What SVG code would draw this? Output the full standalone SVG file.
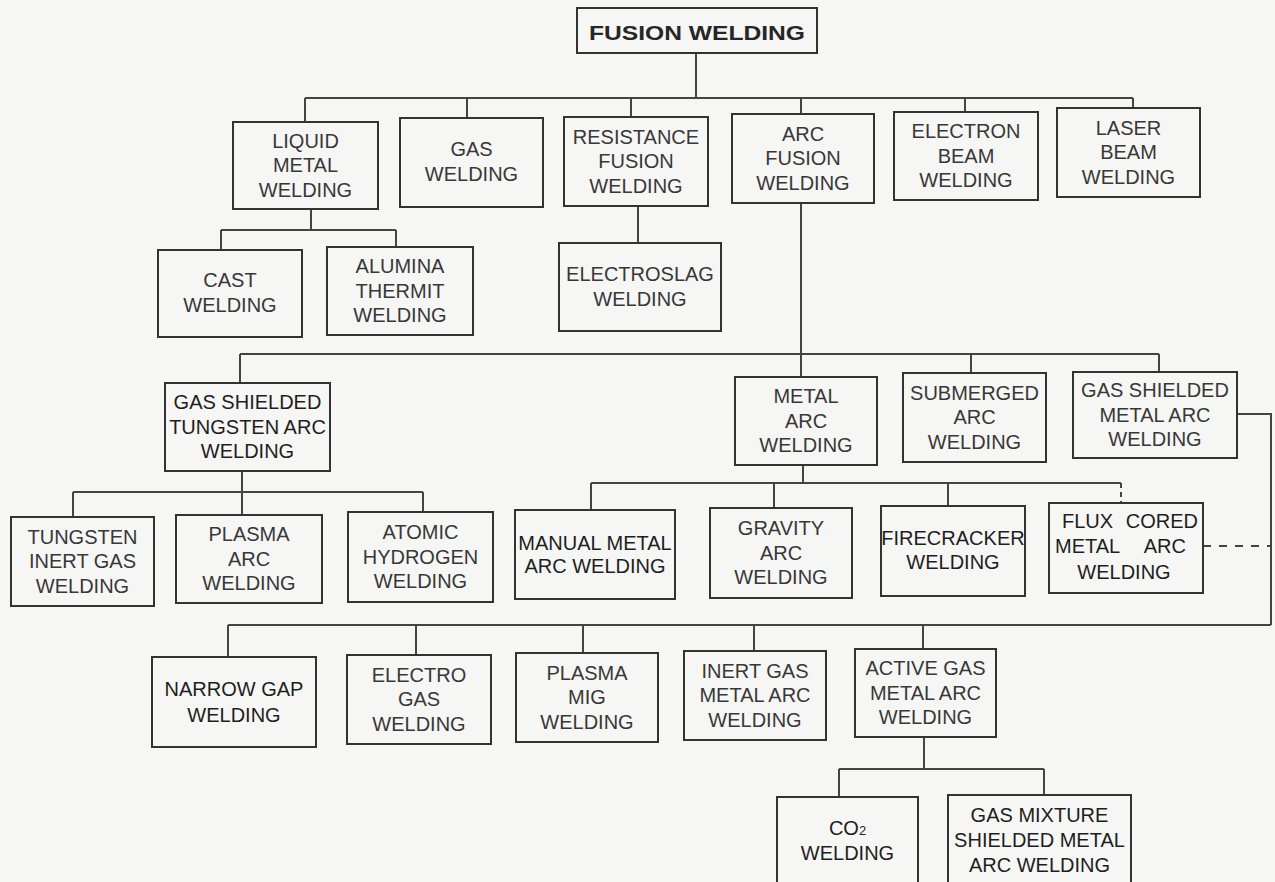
<svg xmlns="http://www.w3.org/2000/svg" width="1275" height="882" viewBox="0 0 1275 882">
<style>
.bg{fill:#f6f6f4}
.box{fill:#f6f6f4;stroke:#333;stroke-width:2}
.t{font-family:"Liberation Sans",Arial,sans-serif;font-size:20px;fill:#383838;text-anchor:middle}
.dk{fill:#1e1e1e}
.root{font-weight:bold;fill:#262626}
.c{fill:none;stroke:#444;stroke-width:2}
.d1{stroke-dasharray:5 4}
.d2{stroke-dasharray:8 8}
</style>
<rect class="bg" x="0" y="0" width="1275" height="882"/>
<g id="connectors">
<path class="c" d="M696 53V98M305 98H1133M305 98V122M467 98V118M631 98V117M801 98V114M965 98V112M1133 98V108"/>
<path class="c" d="M311 209V230M221 230H396M221 230V250M396 230V247M638 206V243"/>
<path class="c" d="M801 203V377M240 354H1159M240 354V383M971 354V373M1159 354V372"/>
<path class="c" d="M242 471V515M73 492H423M73 492V517M423 492V512"/>
<path class="c" d="M803 465V483M591 483H1121M591 483V510M774 483V508M948 483V506"/>
<path class="c d1" d="M1121 483V503"/>
<path class="c" d="M1237 414H1271V625M228 625H1271M228 625V657M416 625V655M583 625V653M754 625V651M923 625V649"/>
<path class="c d2" d="M1203 546H1271"/>
<path class="c" d="M924 737V769M839 769H1044M839 769V797M1044 769V795"/>
</g>
<g id="fusion-welding"><rect class="box" x="577" y="8" width="240" height="45"/><text class="t root" x="697" y="39.5" textLength="216" lengthAdjust="spacingAndGlyphs">FUSION WELDING</text></g>
<g id="liquid-metal"><rect class="box" x="233" y="122" width="145" height="87"/><text class="t"><tspan x="305.5" y="147.5">LIQUID</tspan><tspan x="305.5" y="172">METAL</tspan><tspan x="305.5" y="196.5">WELDING</tspan></text></g>
<g id="gas"><rect class="box" x="400" y="118" width="143" height="89"/><text class="t"><tspan x="471.5" y="156">GAS</tspan><tspan x="471.5" y="181">WELDING</tspan></text></g>
<g id="resistance-fusion"><rect class="box" x="564" y="117" width="144" height="89"/><text class="t"><tspan x="636" y="143.5">RESISTANCE</tspan><tspan x="636" y="168">FUSION</tspan><tspan x="636" y="192.5">WELDING</tspan></text></g>
<g id="arc-fusion"><rect class="box" x="732" y="114" width="142" height="89"/><text class="t"><tspan x="803" y="140.5">ARC</tspan><tspan x="803" y="165">FUSION</tspan><tspan x="803" y="189.5">WELDING</tspan></text></g>
<g id="electron-beam"><rect class="box" x="894" y="112" width="144" height="88"/><text class="t"><tspan x="966" y="138">ELECTRON</tspan><tspan x="966" y="162.5">BEAM</tspan><tspan x="966" y="187">WELDING</tspan></text></g>
<g id="laser-beam"><rect class="box" x="1057" y="108" width="143" height="89"/><text class="t"><tspan x="1128.5" y="134.5">LASER</tspan><tspan x="1128.5" y="159">BEAM</tspan><tspan x="1128.5" y="183.5">WELDING</tspan></text></g>
<g id="cast"><rect class="box" x="158" y="250" width="144" height="87"/><text class="t"><tspan x="230" y="287">CAST</tspan><tspan x="230" y="312">WELDING</tspan></text></g>
<g id="alumina-thermit"><rect class="box" x="327" y="247" width="146" height="88"/><text class="t"><tspan x="400" y="273">ALUMINA</tspan><tspan x="400" y="297.5">THERMIT</tspan><tspan x="400" y="322">WELDING</tspan></text></g>
<g id="electroslag"><rect class="box" x="559" y="243" width="162" height="88"/><text class="t"><tspan x="640" y="281">ELECTROSLAG</tspan><tspan x="640" y="305.5">WELDING</tspan></text></g>
<g id="gas-shielded-tungsten"><rect class="box" x="165" y="383" width="165" height="88"/><text class="t dk"><tspan x="247.5" y="409">GAS SHIELDED</tspan><tspan x="247.5" y="433.5">TUNGSTEN ARC</tspan><tspan x="247.5" y="458">WELDING</tspan></text></g>
<g id="metal-arc"><rect class="box" x="735" y="377" width="142" height="88"/><text class="t"><tspan x="806" y="403">METAL</tspan><tspan x="806" y="427.5">ARC</tspan><tspan x="806" y="452">WELDING</tspan></text></g>
<g id="submerged-arc"><rect class="box" x="903" y="373" width="143" height="89"/><text class="t"><tspan x="974.5" y="399.5">SUBMERGED</tspan><tspan x="974.5" y="424">ARC</tspan><tspan x="974.5" y="448.5">WELDING</tspan></text></g>
<g id="gas-shielded-metal-arc"><rect class="box" x="1073" y="372" width="164" height="86"/><text class="t"><tspan x="1155" y="397">GAS SHIELDED</tspan><tspan x="1155" y="421.5">METAL ARC</tspan><tspan x="1155" y="446">WELDING</tspan></text></g>
<g id="tungsten-inert-gas"><rect class="box" x="11" y="517" width="143" height="89"/><text class="t"><tspan x="82.5" y="543.5">TUNGSTEN</tspan><tspan x="82.5" y="568">INERT GAS</tspan><tspan x="82.5" y="592.5">WELDING</tspan></text></g>
<g id="plasma-arc"><rect class="box" x="176" y="515" width="146" height="88"/><text class="t"><tspan x="249" y="541">PLASMA</tspan><tspan x="249" y="565.5">ARC</tspan><tspan x="249" y="590">WELDING</tspan></text></g>
<g id="atomic-hydrogen"><rect class="box" x="348" y="512" width="145" height="90"/><text class="t"><tspan x="420.5" y="539">ATOMIC</tspan><tspan x="420.5" y="563.5">HYDROGEN</tspan><tspan x="420.5" y="588">WELDING</tspan></text></g>
<g id="manual-metal-arc"><rect class="box" x="515" y="510" width="160" height="89"/><text class="t dk"><tspan x="595" y="550">MANUAL METAL</tspan><tspan x="595" y="573">ARC WELDING</tspan></text></g>
<g id="gravity-arc"><rect class="box" x="710" y="508" width="142" height="90"/><text class="t"><tspan x="781" y="535">GRAVITY</tspan><tspan x="781" y="559.5">ARC</tspan><tspan x="781" y="584">WELDING</tspan></text></g>
<g id="firecracker"><rect class="box" x="881" y="506" width="144" height="90"/><text class="t dk"><tspan x="953" y="545">FIRECRACKER</tspan><tspan x="953" y="568.5">WELDING</tspan></text></g>
<g id="flux-cored"><rect class="box" x="1049" y="503" width="154" height="90"/><text class="t dk"><tspan x="1062" y="528" text-anchor="start">FLUX</tspan><tspan x="1198" y="528" text-anchor="end">CORED</tspan><tspan x="1055" y="552.5" text-anchor="start">METAL</tspan><tspan x="1186" y="552.5" text-anchor="end">ARC</tspan><tspan x="1124" y="579">WELDING</tspan></text></g>
<g id="narrow-gap"><rect class="box" x="152" y="657" width="164" height="90"/><text class="t dk"><tspan x="234" y="696">NARROW GAP</tspan><tspan x="234" y="722">WELDING</tspan></text></g>
<g id="electro-gas"><rect class="box" x="347" y="655" width="144" height="89"/><text class="t"><tspan x="419" y="681.5">ELECTRO</tspan><tspan x="419" y="706">GAS</tspan><tspan x="419" y="730.5">WELDING</tspan></text></g>
<g id="plasma-mig"><rect class="box" x="516" y="653" width="142" height="89"/><text class="t"><tspan x="587" y="679.5">PLASMA</tspan><tspan x="587" y="704">MIG</tspan><tspan x="587" y="728.5">WELDING</tspan></text></g>
<g id="inert-gas-metal-arc"><rect class="box" x="684" y="651" width="142" height="89"/><text class="t"><tspan x="755" y="677.5">INERT GAS</tspan><tspan x="755" y="702">METAL ARC</tspan><tspan x="755" y="726.5">WELDING</tspan></text></g>
<g id="active-gas-metal-arc"><rect class="box" x="855" y="649" width="141" height="88"/><text class="t"><tspan x="925.5" y="675">ACTIVE GAS</tspan><tspan x="925.5" y="699.5">METAL ARC</tspan><tspan x="925.5" y="724">WELDING</tspan></text></g>
<g id="co2"><rect class="box" x="777" y="797" width="141" height="92"/><text class="t dk"><tspan x="847.5" y="835">CO<tspan font-size="13">2</tspan></tspan><tspan x="847.5" y="860">WELDING</tspan></text></g>
<g id="gas-mixture"><rect class="box" x="948" y="795" width="183" height="94"/><text class="t dk"><tspan x="1039.5" y="822">GAS MIXTURE</tspan><tspan x="1039.5" y="847">SHIELDED METAL</tspan><tspan x="1039.5" y="872">ARC WELDING</tspan></text></g>
</svg>
